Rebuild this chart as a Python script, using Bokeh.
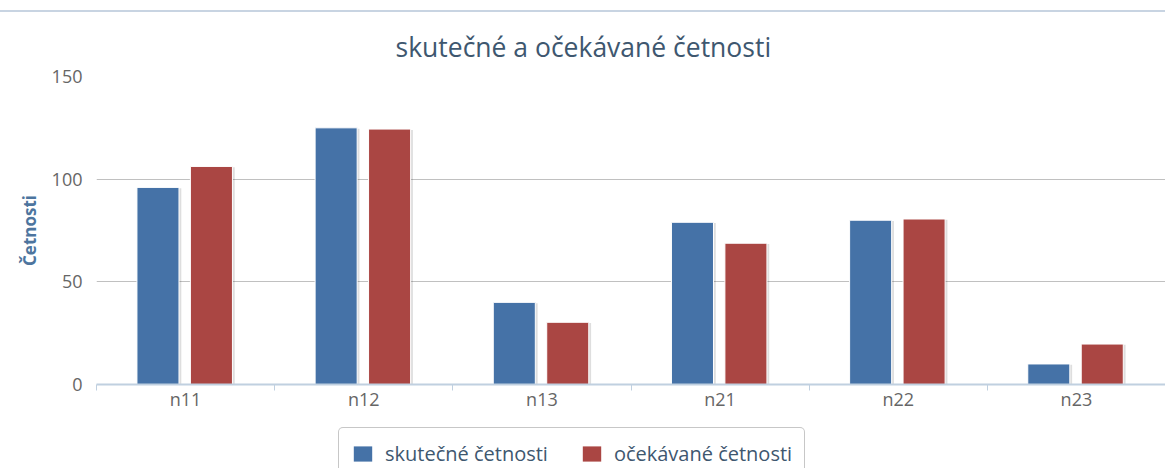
from bokeh.plotting import figure
from bokeh.models import (ColumnDataSource, Range1d, FixedTicker, Legend, LegendItem, Div)
from bokeh.layouts import column
from bokeh.transform import dodge
from bokeh.embed import file_html
from bokeh.resources import INLINE

# ---- data ----
categories = ["n11", "n12", "n13", "n21", "n22", "n23"]
actual = [96, 125, 40, 79, 80, 10]
expected = [106.2, 124.4, 30.3, 68.8, 80.6, 19.7]
series_names = ["skutečné četnosti", "očekávané četnosti"]
y_ticks = [0, 50, 100, 150]

FONT = "Open Sans"
BLUE = "#4572A7"
RED = "#AA4643"
W = 1165

xs = [i + 0.5 for i in range(len(categories))]
src = ColumnDataSource(dict(x=xs, cat=categories, actual=actual, expected=expected))

TOP_H = 12
p = figure(width=W, height=420 - TOP_H, output_backend="svg", toolbar_location=None,
           x_range=Range1d(0, len(categories)), y_range=Range1d(0, 150),
           min_border_left=96, min_border_right=0, min_border_top=76 - TOP_H,
           min_border_bottom=36)
p.outline_line_color = None
p.background_fill_color = "white"
p.border_fill_color = "white"

# title
p.title.text = "skutečné a očekávané četnosti"
p.title.align = "left"
p.title.offset = 299
p.title.text_font = FONT
p.title.text_font_size = "26.5px"
p.title.text_font_style = "normal"
p.title.text_color = "#3E576F"
p.title.standoff = 24

BW = 0.236
OFF_A = -0.155
OFF_E = 0.145

# shadows
for col, off in (("actual", OFF_A), ("expected", OFF_E)):
    p.vbar(x=dodge("x", off + 0.009, range=p.x_range), top=dodge(col, -0.4),
           width=BW + 0.008, bottom=0, source=src,
           fill_color="#000000", fill_alpha=0.13, line_color=None)

ra = p.vbar(x=dodge("x", OFF_A, range=p.x_range), top="actual", width=BW, bottom=0,
            source=src, fill_color=BLUE, line_color="white", line_width=1)
re = p.vbar(x=dodge("x", OFF_E, range=p.x_range), top="expected", width=BW, bottom=0,
            source=src, fill_color=RED, line_color="white", line_width=1)

# grid
p.xgrid.visible = False
p.ygrid.grid_line_color = "#C0C0C0"
p.ygrid.grid_line_width = 1
p.ygrid.ticker = FixedTicker(ticks=y_ticks)

# x axis
xa = p.xaxis[0]
xa.ticker = FixedTicker(ticks=xs, minor_ticks=list(range(len(categories) + 1)))
xa.major_label_overrides = {x: c for x, c in zip(xs, categories)}
xa.major_tick_line_color = None
xa.major_tick_out = 0
xa.major_tick_in = 0
xa.minor_tick_line_color = "#C0D0E0"
xa.minor_tick_out = 6
xa.minor_tick_in = 0
xa.axis_line_color = "#C0D0E0"
xa.axis_line_width = 2
xa.major_label_text_font = FONT
xa.major_label_text_font_size = "18px"
xa.major_label_text_color = "#666666"
xa.major_label_standoff = -4

# y axis
ya = p.yaxis[0]
ya.ticker = FixedTicker(ticks=y_ticks)
ya.axis_line_color = None
ya.major_tick_line_color = None
ya.minor_tick_line_color = None
ya.major_tick_out = 0
ya.major_label_text_font = FONT
ya.major_label_text_font_size = "18px"
ya.major_label_text_color = "#666666"
ya.major_label_standoff = 14
ya.axis_label = "Četnosti"
ya.axis_label_text_font = FONT
ya.axis_label_text_font_size = "17px"
ya.axis_label_text_font_style = "bold"
ya.axis_label_text_color = "#4D759E"
ya.axis_label_standoff = 8

# ---- legend strip (a second svg figure holding the legend) ----
LEG_H = 48
lf = figure(width=W, height=LEG_H, output_backend="svg", toolbar_location=None,
            x_axis_location=None, y_axis_location=None,
            x_range=Range1d(0, 1), y_range=Range1d(0, 1),
            min_border=0, min_border_left=0, min_border_right=0,
            min_border_top=0, min_border_bottom=0)
lf.outline_line_color = None
lf.xgrid.visible = False
lf.ygrid.visible = False
# legend proxies: one bar each, lying outside the visible range
proxy = ColumnDataSource(dict(x=[0.5], top=[-1], bottom=[-2]))
la = lf.vbar(x="x", top="top", bottom="bottom", width=0.1, source=proxy,
             fill_color=BLUE, line_color=None)
le = lf.vbar(x="x", top="top", bottom="bottom", width=0.1, source=proxy,
             fill_color=RED, line_color=None)

legend = Legend(items=[LegendItem(label=series_names[0], renderers=[la]),
                       LegendItem(label=series_names[1], renderers=[le])],
                orientation="horizontal", location=(242, -12))
legend.label_text_font = FONT
legend.label_text_font_size = "20px"
legend.label_text_color = "#3E576F"
legend.border_line_color = "#909090"
legend.border_line_width = 1
legend.padding = 12
legend.spacing = 32
legend.label_standoff = 11
legend.glyph_width = 23
legend.glyph_height = 19
legend.margin = 0
if "border_radius" in legend.properties():
    legend.border_radius = 5
lf.add_layout(legend, "center")

top_line = Div(text="", width=W, height=TOP_H, margin=0,
               styles={"border-bottom": "2px solid #C8D4E2", "box-sizing": "border-box"})

open("out.html", "w").write(file_html(column(top_line, p, lf, spacing=0), INLINE))
